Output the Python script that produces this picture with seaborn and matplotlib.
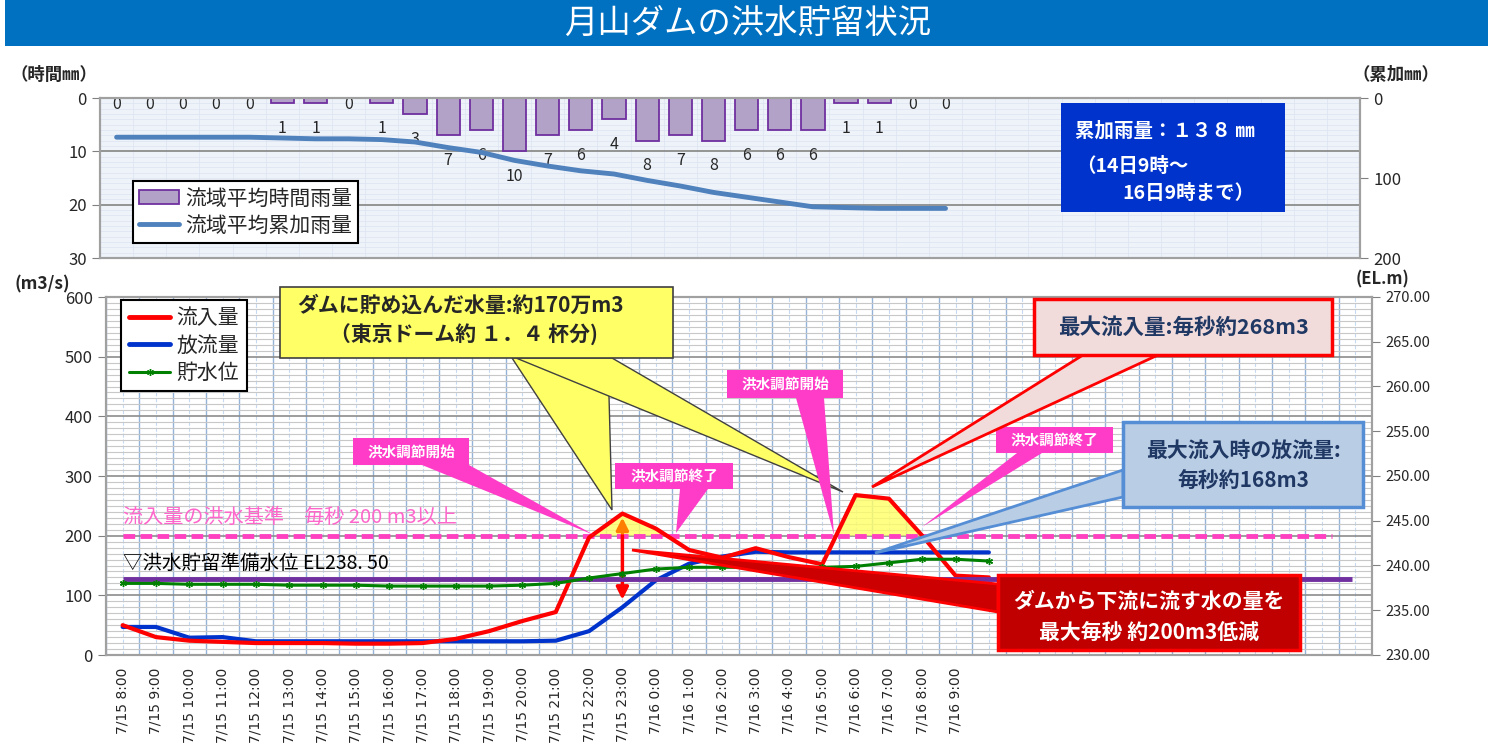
import numpy as np
import pandas as pd
import seaborn as sns
import matplotlib.pyplot as plt
from matplotlib.patches import Polygon, Patch
from matplotlib.lines import Line2D
from matplotlib.ticker import MultipleLocator, FormatStrFormatter

W, H = 1488, 747

# 時刻ラベル (7/16 9:00 より後の枠はラベル無し)
time_labels = ['7/15 8:00', '7/15 9:00', '7/15 10:00', '7/15 11:00', '7/15 12:00',
               '7/15 13:00', '7/15 14:00', '7/15 15:00', '7/15 16:00', '7/15 17:00',
               '7/15 18:00', '7/15 19:00', '7/15 20:00', '7/15 21:00', '7/15 22:00',
               '7/15 23:00', '7/16 0:00', '7/16 1:00', '7/16 2:00', '7/16 3:00',
               '7/16 4:00', '7/16 5:00', '7/16 6:00', '7/16 7:00', '7/16 8:00',
               '7/16 9:00']
n_slots = 38

# 雨量 (mm)
rain_hourly = [0, 0, 0, 0, 0, 1, 1, 0, 1, 3, 7, 6, 10, 7, 6, 4, 8, 7, 8, 6, 6, 6, 1, 1, 0, 0]
rain_cumulative = [49, 49, 49, 49, 49, 50, 51, 51, 52, 55, 62, 68, 78, 85, 91, 95, 103,
                   110, 118, 124, 130, 136, 137, 138, 138, 138]

# 流量 (m3/s) と貯水位 (EL.m)
inflow = [50, 30, 24, 22, 20, 20, 20, 19, 19, 20, 27, 40, 57, 72, 197, 237, 212, 176,
          163, 179, 164, 152, 268, 262, 200, 133, 130]
outflow = [47, 47, 29, 30, 23, 23, 23, 23, 23, 23, 23, 23, 23, 24, 40, 80, 125, 153,
           165, 173, 172, 172, 172, 172, 172, 172, 172]
reservoir_el = [238.0, 238.0, 237.9, 237.9, 237.9, 237.8, 237.8, 237.8, 237.7, 237.7,
                237.7, 237.7, 237.8, 238.0, 238.6, 239.1, 239.6, 239.8, 239.8, 239.8,
                239.8, 239.8, 239.9, 240.3, 240.7, 240.7, 240.5]

flood_standard = 200
prep_level = 238.5

sns.set_style('white')
plt.rcParams['font.family'] = ['Noto Sans CJK JP', 'DejaVu Sans']

fig = plt.figure(figsize=(W / 100, H / 100), dpi=100)


def fp(x, y):
    return (x / W, 1 - y / H)


def fig_poly(points, **kw):
    fig.add_artist(Polygon([fp(x, y) for x, y in points], closed=True,
                           transform=fig.transFigure, **kw))


def fig_box(x0, y0, x1, y1, **kw):
    fig_poly([(x0, y0), (x1, y0), (x1, y1), (x0, y1)], **kw)


def fig_text(x, y, s, **kw):
    kw.setdefault('ha', 'center')
    kw.setdefault('va', 'center')
    fig.text(*fp(x, y), s, **kw)


# ---- 上段: 雨量 ----
ax_r = fig.add_axes([100 / W, 1 - 258 / H, 1260 / W, 160 / H])
rain_df = pd.DataFrame({'pos': np.arange(len(rain_hourly)),
                        'rain': rain_hourly, 'cum': rain_cumulative})
sns.barplot(data=rain_df, x='pos', y='rain', native_scale=True, width=0.7,
            color='#B3A2C7', edgecolor='#7030A0', linewidth=1.3, saturation=1, ax=ax_r)
ax_r.set_facecolor('#EEF3FA')
ax_r.set_xlim(-0.5, n_slots - 0.5)
ax_r.set_ylim(30, 0)
ax_r.set_yticks([0, 10, 20, 30])
ax_r.set_xticks([])
ax_r.yaxis.set_minor_locator(MultipleLocator(1))
ax_r.set_xticks(np.arange(n_slots + 1) - 0.5, minor=True)
ax_r.grid(which='major', axis='y', color='#8C8C8C', lw=1.3)
ax_r.grid(which='minor', color='#DCE4F0', lw=0.5)
ax_r.set_axisbelow(True)
ax_r.tick_params(axis='y', which='major', labelsize=12, length=6, color='#808080')
ax_r.tick_params(which='minor', length=0)
ax_r.set_xlabel('')
ax_r.set_ylabel('')
for i, v in enumerate(rain_hourly):
    ax_r.text(i, v + 4.7 if v else 1.2, str(v), ha='center', va='center', fontsize=11.5)

ax_rc = ax_r.twinx()
sns.lineplot(data=rain_df, x='pos', y='cum', ax=ax_rc, color='#4F81BD', linewidth=3.5)
ax_rc.set_ylim(200, 0)
ax_rc.set_yticks([0, 100, 200])
ax_rc.set_ylabel('')
ax_rc.tick_params(axis='y', labelsize=12, length=6, color='#808080')
for a in (ax_r, ax_rc):
    for sp in a.spines.values():
        sp.set_color('#A0A0A0')
        sp.set_linewidth(1.5)

rain_handles = [Patch(facecolor='#B3A2C7', edgecolor='#7030A0', linewidth=1.3),
                Line2D([], [], color='#4F81BD', linewidth=3.5)]
leg = ax_rc.legend(rain_handles, ['流域平均時間雨量', '流域平均累加雨量'], loc='upper left',
                   bbox_to_anchor=(0.018, 0.545), fontsize=15, frameon=True, fancybox=False,
                   edgecolor='black', framealpha=1, handlelength=1.9, borderpad=0.3,
                   labelspacing=0.25, handletextpad=0.3)
leg.get_frame().set_linewidth(1.5)

# ---- 下段: 流量・貯水位 ----
ax_q = fig.add_axes([106 / W, 1 - 655 / H, 1266 / W, 358 / H])
q_df = pd.DataFrame({'pos': np.arange(len(inflow)), 'inflow': inflow,
                     'outflow': outflow, 'level': reservoir_el})
ax_q.fill_between(q_df['pos'], q_df['inflow'], flood_standard,
                  where=q_df['inflow'] >= flood_standard, interpolate=True,
                  color='#FFFF66', alpha=0.8, zorder=2, linewidth=0)
ax_q.hlines(flood_standard, 0, 36.3, colors='#FF40C0', linestyles=(0, (2.4, 1.1)),
            linewidth=3.5, zorder=3)
sns.lineplot(data=q_df, x='pos', y='outflow', ax=ax_q, color='#0033CC', linewidth=3, zorder=4)
sns.lineplot(data=q_df, x='pos', y='inflow', ax=ax_q, color='#FF0000', linewidth=3, zorder=5)

peak = int(np.argmax(inflow[:20]))
ax_q.annotate('', xy=(peak, outflow[peak] + 8), xytext=(peak, 205),
              arrowprops=dict(arrowstyle='-|>', color='#FF0000', lw=2.5, mutation_scale=18),
              zorder=6)
ax_q.annotate('', xy=(peak, inflow[peak] - 2), xytext=(peak, 200),
              arrowprops=dict(arrowstyle='-|>', color='#FF7F00', lw=2.5, mutation_scale=18),
              zorder=6)

ax_q.text(0, 231, '流入量の洪水基準　毎秒 200 m3以上', color='#FF66CC', fontsize=14.5,
          va='center', ha='left', zorder=6)
ax_q.text(0, 154, '▽洪水貯留準備水位 EL238. 50', color='black', fontsize=14,
          va='center', ha='left', zorder=6)

ax_q.set_xlim(-0.5, n_slots - 0.5)
ax_q.set_ylim(0, 600)
ax_q.set_xticks(np.arange(n_slots))
ax_q.set_xticklabels(time_labels + [''] * (n_slots - len(time_labels)), rotation=90,
                     fontsize=10, family='DejaVu Sans')
ax_q.set_xticks(np.arange(n_slots + 1) - 0.5, minor=True)
ax_q.yaxis.set_major_locator(MultipleLocator(100))
ax_q.yaxis.set_minor_locator(MultipleLocator(10))
ax_q.tick_params(axis='x', which='major', length=0, pad=9)
ax_q.tick_params(axis='x', which='minor', length=6, color='#808080')
ax_q.tick_params(axis='y', which='major', length=6, color='#808080', labelsize=12)
ax_q.tick_params(axis='y', which='minor', length=0)
ax_q.grid(which='minor', axis='x', color='#95B3D7', lw=1)
ax_q.grid(which='major', axis='x', color='#C6D9F1', lw=0.8, ls='--')
ax_q.grid(which='major', axis='y', color='#8C8C8C', lw=1.2)
ax_q.grid(which='minor', axis='y', color='#C8C8C8', lw=0.8)
ax_q.set_axisbelow(True)
ax_q.set_xlabel('')
ax_q.set_ylabel('')

ax_el = ax_q.twinx()
ax_el.hlines(prep_level, 0, 36.9, colors='#7030A0', linewidth=3.5)
sns.lineplot(data=q_df, x='pos', y='level', ax=ax_el, color='#008000', linewidth=2.2,
             marker=(6, 2, 0), markersize=5, markeredgecolor='#008000', markeredgewidth=1)
ax_el.set_ylim(230, 270)
ax_el.yaxis.set_major_locator(MultipleLocator(5))
ax_el.yaxis.set_major_formatter(FormatStrFormatter('%.2f'))
ax_el.tick_params(axis='y', labelsize=10.5, length=6, color='#808080')
ax_el.set_ylabel('')
for a in (ax_q, ax_el):
    for sp in a.spines.values():
        sp.set_color('#A0A0A0')
        sp.set_linewidth(1.5)

q_handles = [Line2D([], [], color='#FF0000', linewidth=3.5),
             Line2D([], [], color='#0033CC', linewidth=3.5),
             Line2D([], [], color='#008000', linewidth=2.2, marker=(6, 2, 0), markersize=5)]
leg2 = ax_el.legend(q_handles, ['流入量', '放流量', '貯水位'], loc='upper left',
                    bbox_to_anchor=(0.004, 1.02), fontsize=15, frameon=True, fancybox=False,
                    edgecolor='black', framealpha=1, handlelength=2.0, borderpad=0.35,
                    labelspacing=0.25, handletextpad=0.3)
leg2.get_frame().set_linewidth(1.5)

# ---- タイトル・軸単位 ----
fig_box(5, 0, W, 46, facecolor='#0070C0', edgecolor='none')
fig_text(748, 23, '月山ダムの洪水貯留状況', color='white', fontsize=24)
fig_text(10, 75, '（時間㎜）', fontsize=12.5, weight='bold', ha='left')
fig_text(1352, 75, '（累加㎜）', fontsize=12.5, weight='bold', ha='left')
fig_text(14, 284, '(m3/s)', fontsize=12.5, weight='bold', ha='left')
fig_text(1356, 279, '(EL.m)', fontsize=12, weight='bold', ha='left')

# 累加雨量ボックス
fig_box(1061, 103, 1285, 212, facecolor='#0033CC', edgecolor='none')
fig_text(1075, 131, '累加雨量：１３８ ㎜', color='white', fontsize=14, weight='bold', ha='left')
fig_text(1076, 166, '（14日9時～', color='white', fontsize=14, weight='bold', ha='left')
fig_text(1122, 193, '16日9時まで）', color='white', fontsize=14, weight='bold', ha='left')

# 貯留量の吹き出し
fig_poly([(512, 358), (612, 510), (608, 358)], facecolor='#FFFF66', edgecolor='#404040', lw=1)
fig_poly([(516, 358), (843, 492), (612, 358)], facecolor='#FFFF66', edgecolor='#404040', lw=1)
fig_box(280, 287, 673, 358, facecolor='#FFFF66', edgecolor='#404040', lw=1.2)
fig_text(460, 305, 'ダムに貯め込んだ水量:約170万m3', fontsize=15, weight='bold')
fig_text(464, 334, '（東京ドーム約 １．４ 杯分)', fontsize=15, weight='bold')

# 洪水調節の吹き出し
pink = '#FF3CC8'
for (x0, y0, x1, y1), tail, label in [
        ((353, 438, 469, 465), [(422, 465), (469, 465), (594, 535)], '洪水調節開始'),
        ((615, 463, 733, 489), [(680, 489), (708, 489), (676, 533)], '洪水調節終了'),
        ((727, 370, 843, 398), [(796, 398), (824, 398), (834, 535)], '洪水調節開始'),
        ((996, 427, 1113, 453), [(1017, 453), (1042, 453), (922, 527)], '洪水調節終了')]:
    fig_poly(tail, facecolor=pink, edgecolor='none')
    fig_box(x0, y0, x1, y1, facecolor=pink, edgecolor='none')
    fig_text((x0 + x1) / 2, (y0 + y1) / 2, label, color='white', fontsize=10.5, weight='bold')

# 最大流入量
fig_poly([(1083, 355), (1158, 355), (872, 487)], facecolor='#F2DCDB', edgecolor='#FF0000', lw=2)
fig_box(1034, 299, 1332, 355, facecolor='#F2DCDB', edgecolor='#FF0000', lw=2.5)
fig_text(1183, 327, '最大流入量:毎秒約268m3', color='#1F3864', fontsize=15.5, weight='bold')

# 最大流入時の放流量
fig_poly([(1123, 470), (1123, 497), (875, 553)], facecolor='#B9CDE5', edgecolor='#558ED5', lw=2)
fig_box(1123, 422, 1363, 507, facecolor='#B9CDE5', edgecolor='#558ED5', lw=2.5)
fig_text(1243, 450, '最大流入時の放流量:', color='#1F3864', fontsize=15, weight='bold')
fig_text(1243, 480, '毎秒約168m3', color='#1F3864', fontsize=15, weight='bold')

# 低減量
fig_poly([(632, 550), (998, 584), (998, 612)], facecolor='#CC0000', edgecolor='#FF0000', lw=2)
fig_box(998, 575, 1300, 650, facecolor='#C00000', edgecolor='#FF0000', lw=2.5)
fig_text(1149, 601, 'ダムから下流に流す水の量を', color='white', fontsize=15, weight='bold')
fig_text(1149, 632, '最大毎秒 約200m3低減', color='white', fontsize=15, weight='bold')

fig.savefig('out.png', dpi=100)
